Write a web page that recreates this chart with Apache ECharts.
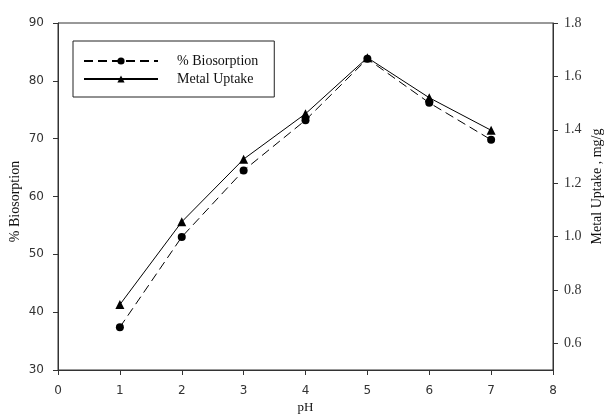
<!DOCTYPE html>
<html>
<head>
<meta charset="utf-8">
<script src="https://cdn.jsdelivr.net/npm/echarts@6/dist/echarts.min.js"></script>
<style>
  html, body { margin: 0; padding: 0; background: #fff; }
  #chart { width: 604px; height: 416px; }
</style>
</head>
<body>
<div id="chart"></div>
<script>
var phValues = [1, 2, 3, 4, 5, 6, 7];
var biosorption = [37.4, 53.0, 64.5, 73.2, 83.8, 76.2, 69.8];
var metalUptake = [0.745, 1.055, 1.29, 1.46, 1.67, 1.52, 1.398];
var uptakeTicks = [0.6, 0.8, 1.0, 1.2, 1.4, 1.6, 1.8];

var sans = "DejaVu Sans";
var serif = "Liberation Serif";

var chart = echarts.init(document.getElementById("chart"));

var option = {
  animation: false,
  backgroundColor: "#fff",
  grid: {
    left: 58,
    right: 51,
    top: 23,
    bottom: 46,
    outerBoundsMode: "none",
    containLabel: false,
    show: true,
    borderColor: "#333",
    borderWidth: 1
  },
  legend: {
    orient: "vertical",
    left: 73,
    top: 41,
    padding: [13, 16, 11, 10],
    itemGap: 4,
    itemWidth: 74,
    itemHeight: 9,
    borderColor: "#222",
    borderWidth: 1,
    textStyle: {
      fontFamily: serif,
      fontSize: 14,
      color: "#111",
      padding: [0, 0, 0, 14]
    },
    data: ["% Biosorption", "Metal Uptake"]
  },
  xAxis: {
    type: "value",
    min: 0,
    max: 8,
    interval: 1,
    name: "pH",
    nameLocation: "middle",
    nameGap: 31,
    nameMoveOverlap: false,
    nameTextStyle: { fontFamily: serif, fontSize: 13, color: "#111" },
    axisLine: { lineStyle: { color: "#333" } },
    axisTick: { length: 5, lineStyle: { color: "#333" } },
    axisLabel: { fontFamily: sans, fontSize: 12, color: "#333", margin: 15 },
    splitLine: { show: false }
  },
  yAxis: [
    {
      type: "value",
      min: 30,
      max: 90,
      interval: 10,
      name: "% Biosorption",
      nameLocation: "middle",
      nameGap: 36,
      nameMoveOverlap: false,
      nameTextStyle: { fontFamily: serif, fontSize: 14, color: "#111", padding: [0, 0, 0, -10] },
      axisLine: { show: true, lineStyle: { color: "#333" } },
      axisTick: { show: true, length: 5, lineStyle: { color: "#333" } },
      axisLabel: { fontFamily: sans, fontSize: 12, color: "#333", margin: 14 },
      splitLine: { show: false }
    },
    {
      type: "value",
      position: "right",
      min: 0.5,
      max: 1.8,
      name: "Metal Uptake , mg/g",
      nameLocation: "middle",
      nameGap: 37,
      nameMoveOverlap: false,
      nameTextStyle: { fontFamily: serif, fontSize: 14, color: "#111", padding: [0, 0, 0, 20] },
      axisLine: { show: true, lineStyle: { color: "#333" } },
      axisTick: { show: true, length: 5, customValues: uptakeTicks, lineStyle: { color: "#333" } },
      axisLabel: {
        fontFamily: serif,
        fontSize: 14,
        color: "#333",
        margin: 11,
        customValues: uptakeTicks,
        formatter: function (v) { return v.toFixed(1); }
      },
      splitLine: { show: false }
    }
  ],
  series: [
    {
      name: "% Biosorption",
      type: "line",
      yAxisIndex: 0,
      data: phValues.map(function (x, i) { return [x, biosorption[i]]; }),
      symbol: "circle",
      symbolSize: 8,
      itemStyle: { color: "#000" },
      lineStyle: { color: "#000", width: 1, type: [9, 5] }
    },
    {
      name: "Metal Uptake",
      type: "line",
      yAxisIndex: 1,
      data: phValues.map(function (x, i) { return [x, metalUptake[i]]; }),
      symbol: "triangle",
      symbolSize: 9,
      itemStyle: { color: "#000" },
      lineStyle: { color: "#000", width: 1 }
    }
  ]
};

chart.setOption(option);
</script>
</body>
</html>
